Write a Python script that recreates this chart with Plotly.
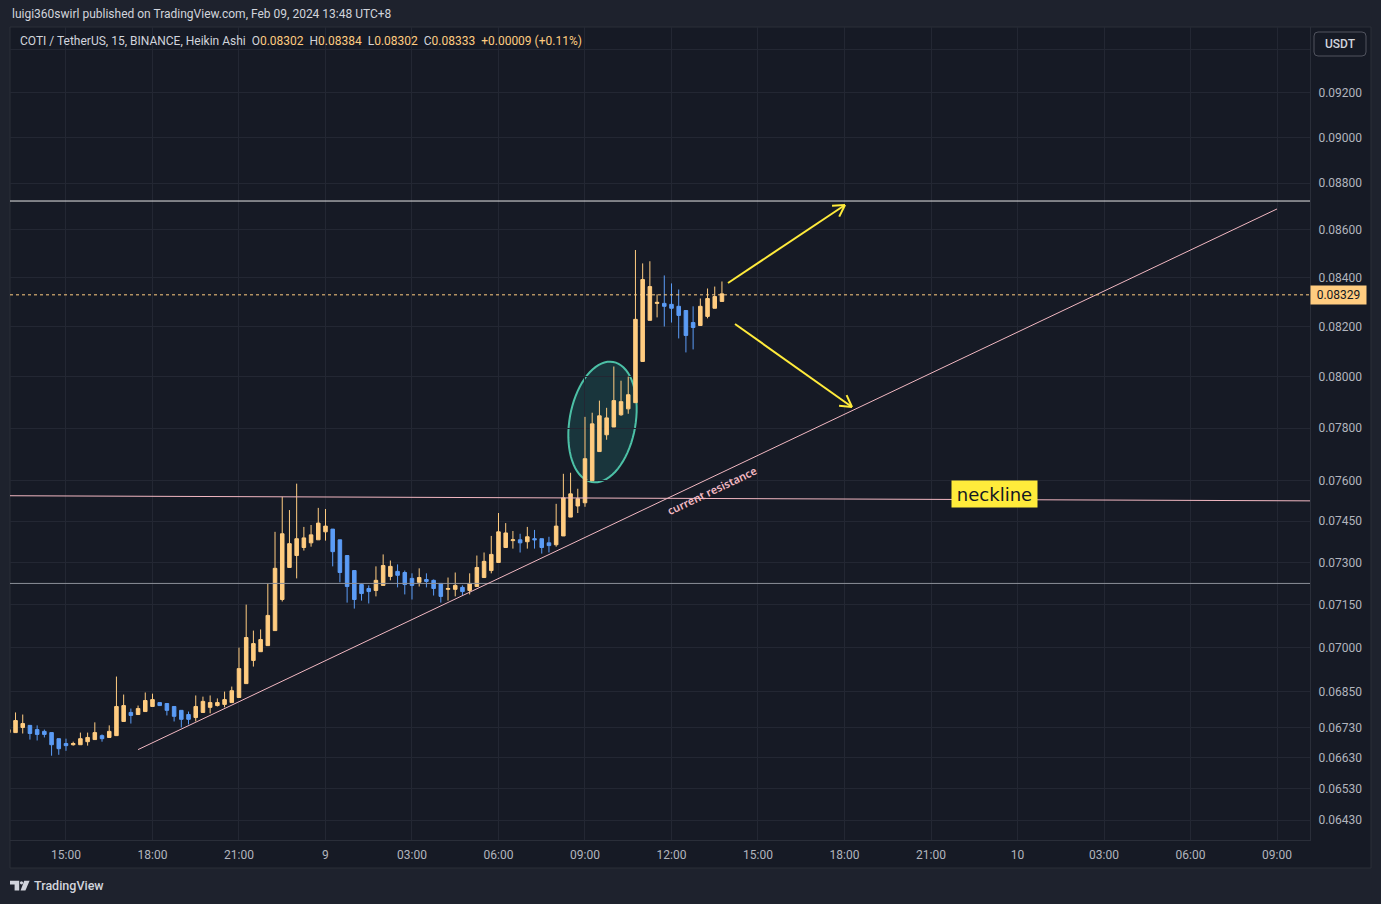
import math
import numpy as np
import pandas as pd
import plotly.graph_objects as go

# ------------------------------------------------------------------ data
bar_start = "2024-02-08 13:00"
bar_count = 100          # 15-minute Heikin Ashi bars, 13:00 Feb 8 -> 13:45 Feb 9

opens = [0.06713, 0.06713, 0.06730, 0.06737, 0.06723, 0.06717, 0.06713, 0.06693, 0.06677, 0.06673,
         0.06673, 0.06683, 0.06690, 0.06703, 0.06697, 0.06703, 0.06750, 0.06780, 0.06773, 0.06783,
         0.06800, 0.06813, 0.06810, 0.06800, 0.06787, 0.06773, 0.06763, 0.06780, 0.06797, 0.06803,
         0.06807, 0.06813, 0.06830, 0.06877, 0.06956, 0.06986, 0.07007, 0.07059, 0.07168, 0.07282,
         0.07325, 0.07354, 0.07371, 0.07382, 0.07411, 0.07421, 0.07382, 0.07325, 0.07271, 0.07221,
         0.07207, 0.07200, 0.07218, 0.07250, 0.07268, 0.07264, 0.07243, 0.07229, 0.07239, 0.07236,
         0.07225, 0.07204, 0.07204, 0.07211, 0.07200, 0.07214, 0.07246, 0.07271, 0.07300, 0.07354,
         0.07379, 0.07382, 0.07375, 0.07386, 0.07386, 0.07371, 0.07364, 0.07396, 0.07465, 0.07506,
         0.07518, 0.07600, 0.07710, 0.07774, 0.07804, 0.07851, 0.07874, 0.07898, 0.08060, 0.08225,
         0.08294, 0.08294, 0.08290, 0.08282, 0.08265, 0.08216, 0.08204, 0.08241, 0.08274, 0.08302]
highs = [0.06727, 0.06780, 0.06773, 0.06737, 0.06737, 0.06723, 0.06713, 0.06693, 0.06693, 0.06683,
         0.06713, 0.06713, 0.06747, 0.06707, 0.06737, 0.06901, 0.06840, 0.06793, 0.06803, 0.06847,
         0.06843, 0.06813, 0.06810, 0.06800, 0.06787, 0.06783, 0.06837, 0.06833, 0.06837, 0.06827,
         0.06850, 0.06867, 0.07000, 0.07150, 0.07059, 0.07063, 0.07225, 0.07411, 0.07540, 0.07491,
         0.07589, 0.07429, 0.07436, 0.07499, 0.07495, 0.07421, 0.07382, 0.07325, 0.07271, 0.07225,
         0.07218, 0.07286, 0.07329, 0.07307, 0.07293, 0.07271, 0.07261, 0.07279, 0.07261, 0.07239,
         0.07225, 0.07246, 0.07264, 0.07218, 0.07261, 0.07325, 0.07336, 0.07396, 0.07480, 0.07443,
         0.07414, 0.07404, 0.07429, 0.07418, 0.07386, 0.07393, 0.07514, 0.07626, 0.07630, 0.07570,
         0.07843, 0.07859, 0.07906, 0.07878, 0.08040, 0.07984, 0.08000, 0.08515, 0.08459, 0.08468,
         0.08331, 0.08409, 0.08376, 0.08351, 0.08265, 0.08282, 0.08314, 0.08355, 0.08363, 0.08384]
lows = [0.06710, 0.06713, 0.06710, 0.06690, 0.06687, 0.06697, 0.06637, 0.06640, 0.06653, 0.06670,
        0.06673, 0.06670, 0.06690, 0.06683, 0.06697, 0.06703, 0.06750, 0.06743, 0.06773, 0.06783,
        0.06800, 0.06803, 0.06770, 0.06750, 0.06730, 0.06740, 0.06750, 0.06780, 0.06777, 0.06800,
        0.06797, 0.06813, 0.06830, 0.06877, 0.06935, 0.06986, 0.07007, 0.07059, 0.07161, 0.07282,
        0.07243, 0.07343, 0.07357, 0.07382, 0.07379, 0.07286, 0.07229, 0.07157, 0.07136, 0.07164,
        0.07154, 0.07179, 0.07218, 0.07236, 0.07211, 0.07186, 0.07168, 0.07214, 0.07211, 0.07182,
        0.07157, 0.07164, 0.07179, 0.07182, 0.07186, 0.07214, 0.07246, 0.07261, 0.07300, 0.07354,
        0.07350, 0.07336, 0.07350, 0.07350, 0.07332, 0.07336, 0.07357, 0.07396, 0.07465, 0.07480,
        0.07503, 0.07600, 0.07710, 0.07755, 0.07804, 0.07847, 0.07855, 0.07898, 0.08060, 0.08225,
        0.08237, 0.08200, 0.08216, 0.08152, 0.08096, 0.08108, 0.08204, 0.08233, 0.08274, 0.08302]
closes = [0.06723, 0.06753, 0.06743, 0.06710, 0.06707, 0.06707, 0.06673, 0.06660, 0.06670, 0.06677,
          0.06693, 0.06697, 0.06713, 0.06693, 0.06717, 0.06800, 0.06803, 0.06770, 0.06793, 0.06820,
          0.06823, 0.06803, 0.06787, 0.06767, 0.06757, 0.06757, 0.06800, 0.06817, 0.06813, 0.06813,
          0.06823, 0.06853, 0.06928, 0.07035, 0.07014, 0.07028, 0.07112, 0.07279, 0.07404, 0.07368,
          0.07386, 0.07389, 0.07400, 0.07443, 0.07432, 0.07339, 0.07264, 0.07214, 0.07168, 0.07189,
          0.07196, 0.07236, 0.07289, 0.07286, 0.07254, 0.07221, 0.07218, 0.07246, 0.07232, 0.07207,
          0.07179, 0.07207, 0.07218, 0.07196, 0.07225, 0.07282, 0.07304, 0.07329, 0.07411, 0.07407,
          0.07382, 0.07371, 0.07393, 0.07382, 0.07354, 0.07361, 0.07432, 0.07536, 0.07551, 0.07533,
          0.07683, 0.07816, 0.07847, 0.07839, 0.07906, 0.07902, 0.07929, 0.08229, 0.08392, 0.08363,
          0.08298, 0.08282, 0.08274, 0.08245, 0.08164, 0.08196, 0.08282, 0.08314, 0.08322, 0.08333]

price_ticks = [0.0643, 0.0653, 0.0663, 0.0673, 0.0685, 0.0700, 0.0715, 0.0730, 0.0745,
               0.0760, 0.0780, 0.0800, 0.0820, 0.0840, 0.0860, 0.0880, 0.0900, 0.0920, 0.0940]
time_ticks = ["2024-02-08 15:00", "2024-02-08 18:00", "2024-02-08 21:00", "2024-02-09 00:00",
              "2024-02-09 03:00", "2024-02-09 06:00", "2024-02-09 09:00", "2024-02-09 12:00",
              "2024-02-09 15:00", "2024-02-09 18:00", "2024-02-09 21:00", "2024-02-10 00:00",
              "2024-02-10 03:00", "2024-02-10 06:00", "2024-02-10 09:00"]
time_tick_labels = ["15:00", "18:00", "21:00", "9", "03:00", "06:00", "09:00", "12:00",
                    "15:00", "18:00", "21:00", "10", "03:00", "06:00", "09:00"]

view_start = "2024-02-08 13:03:30"
view_end = "2024-02-10 10:08:40"
view_low, view_high = 0.06367, 0.09504

top_level = 0.08723
support_level = 0.07225
neckline_prices = [0.07544, 0.07525]
trend_times = ["2024-02-08 17:30", "2024-02-10 09:00"]
trend_prices = [0.06657, 0.08689]
last_price = 0.08329

# ------------------------------------------------------------------ style
W, H = 1381, 904
PL, PR, PT, PB = 10, 1310, 27, 840          # plot pane in page pixels
FRAME = "#1e222d"
PANE = "#161a25"
GRID = "#232733"
BORDER = "#2a2e39"
TEXT = "#d1d4dc"
AXIS_TEXT = "#b2b5be"
UP = "#ffcc80"
DOWN = "#5b9cf6"
PINK = "#f2b8c2"
YELLOW = "#ffeb3b"
FONT = "Roboto"


def PX(px):
    return (px - PL) / (PR - PL)


def PY(py):
    return (PB - py) / (PB - PT)


def path_from(points, close=True):
    s = "M " + " L ".join(f"{PX(x):.5f},{PY(y):.5f}" for x, y in points)
    return s + (" Z" if close else "")


fig = go.Figure()

times = pd.date_range(bar_start, periods=bar_count, freq="15min")
fig.add_trace(go.Candlestick(
    x=times, open=opens, high=highs, low=lows, close=closes,
    increasing=dict(line=dict(color=UP, width=1), fillcolor=UP),
    decreasing=dict(line=dict(color=DOWN, width=1), fillcolor=DOWN),
    whiskerwidth=0, showlegend=False, name="COTIUSDT"))

# drawings on the chart
fig.add_trace(go.Scatter(x=[view_start, view_end], y=[top_level, top_level], mode="lines",
                         line=dict(color="#e6e6e6", width=1), hoverinfo="skip", showlegend=False))
fig.add_trace(go.Scatter(x=[view_start, view_end], y=[support_level, support_level], mode="lines",
                         line=dict(color="#8c8f99", width=1), hoverinfo="skip", showlegend=False))
fig.add_trace(go.Scatter(x=[view_start, view_end], y=neckline_prices, mode="lines",
                         line=dict(color=PINK, width=1), hoverinfo="skip", showlegend=False))
fig.add_trace(go.Scatter(x=trend_times, y=trend_prices, mode="lines",
                         line=dict(color=PINK, width=1), hoverinfo="skip", showlegend=False))
fig.add_trace(go.Scatter(x=[view_start, view_end], y=[last_price, last_price], mode="lines",
                         line=dict(color=UP, width=1, dash="dot"), hoverinfo="skip", showlegend=False))

shapes = []
# chart box (pane + scales)
shapes.append(dict(type="rect", xref="paper", yref="paper", layer="below",
                   x0=PX(10), x1=PX(1371), y0=PY(868), y1=PY(27),
                   fillcolor=PANE, line=dict(color=BORDER, width=1)))

# ellipse around the breakout candles
cx, cy, ea, eb, th = 602.5, 422.0, 61.0, 33.0, math.radians(10)
ux, uy = math.sin(th), -math.cos(th)
vx, vy = math.cos(th), math.sin(th)
pts = []
for k in range(73):
    t = 2 * math.pi * k / 72
    pts.append((cx + ea * math.cos(t) * ux + eb * math.sin(t) * vx,
                cy + ea * math.cos(t) * uy + eb * math.sin(t) * vy))
shapes.append(dict(type="path", xref="paper", yref="paper", path=path_from(pts), layer="below",
                   fillcolor="rgba(38,166,154,0.20)", line=dict(color="#4cc0a6", width=2)))

# yellow arrows
def arrow(tail, tip, head=13, ang=30):
    out = [dict(type="line", xref="paper", yref="paper", x0=PX(tail[0]), y0=PY(tail[1]),
                x1=PX(tip[0]), y1=PY(tip[1]), line=dict(color=YELLOW, width=2))]
    dx, dy = tail[0] - tip[0], tail[1] - tip[1]
    L = math.hypot(dx, dy)
    dx, dy = dx / L, dy / L
    for s in (1, -1):
        a = math.radians(ang) * s
        bx = dx * math.cos(a) - dy * math.sin(a)
        by = dx * math.sin(a) + dy * math.cos(a)
        out.append(dict(type="line", xref="paper", yref="paper", x0=PX(tip[0]), y0=PY(tip[1]),
                        x1=PX(tip[0] + head * bx), y1=PY(tip[1] + head * by),
                        line=dict(color=YELLOW, width=2)))
    return out

shapes += arrow((728, 283), (845, 205))
shapes += arrow((735, 324), (852, 407))

# USDT button (rounded)
bx0, bx1, by0, by1, r = 1314, 1366, 32, 56, 4
shapes.append(dict(type="path", xref="paper", yref="paper", layer="above",
                   path=(f"M {PX(bx0 + r)},{PY(by0)} L {PX(bx1 - r)},{PY(by0)} "
                         f"Q {PX(bx1)},{PY(by0)} {PX(bx1)},{PY(by0 + r)} "
                         f"L {PX(bx1)},{PY(by1 - r)} Q {PX(bx1)},{PY(by1)} {PX(bx1 - r)},{PY(by1)} "
                         f"L {PX(bx0 + r)},{PY(by1)} Q {PX(bx0)},{PY(by1)} {PX(bx0)},{PY(by1 - r)} "
                         f"L {PX(bx0)},{PY(by0 + r)} Q {PX(bx0)},{PY(by0)} {PX(bx0 + r)},{PY(by0)} Z"),
                   fillcolor=PANE, line=dict(color="#50535e", width=1)))

# TradingView logo mark
shapes.append(dict(type="path", xref="paper", yref="paper",
                   path=path_from([(10, 880.8), (19.2, 880.8), (19.2, 890.6), (14.6, 890.6),
                                   (14.6, 884.6), (10, 884.6)]),
                   fillcolor=TEXT, line=dict(width=0)))
shapes.append(dict(type="circle", xref="paper", yref="paper",
                   x0=PX(19.9), x1=PX(23.1), y0=PY(884.4), y1=PY(881.2),
                   fillcolor=TEXT, line=dict(width=0)))
shapes.append(dict(type="path", xref="paper", yref="paper",
                   path=path_from([(24.2, 880.8), (29.6, 880.8), (25.4, 890.6), (20.6, 890.6)]),
                   fillcolor=TEXT, line=dict(width=0)))

annotations = []
annotations.append(dict(xref="paper", yref="paper", x=PX(10), y=PY(14), xanchor="left", yanchor="middle",
                        showarrow=False, text="luigi360swirl published on TradingView.com, Feb 09, 2024 13:48 UTC+8",
                        font=dict(family=FONT, size=12, color=TEXT)))
val = lambda s: f"<span style='color:{UP}'>{s}</span>"
legend_text = ("COTI / TetherUS, 15, BINANCE, Heikin Ashi&nbsp;&nbsp;"
               f"O{val('0.08302')}&nbsp;&nbsp;H{val('0.08384')}&nbsp;&nbsp;L{val('0.08302')}&nbsp;&nbsp;"
               f"C{val('0.08333')}&nbsp;&nbsp;{val('+0.00009 (+0.11%)')}")
annotations.append(dict(xref="paper", yref="paper", x=PX(18), y=PY(41), xanchor="left", yanchor="middle",
                        showarrow=False, text=legend_text, font=dict(family=FONT, size=12, color=TEXT)))
annotations.append(dict(xref="paper", yref="paper", x=PX(1340), y=PY(44), xanchor="center", yanchor="middle",
                        showarrow=False, text="USDT", font=dict(family=FONT, size=12, color=TEXT, weight=500)))
annotations.append(dict(xref="paper", yref="y", x=PX(1338.5), y=math.log10(last_price),
                        xanchor="center", yanchor="middle", showarrow=False, text=f"{last_price:.5f}",
                        bgcolor=UP, width=51, height=14, borderpad=2,
                        font=dict(family=FONT, size=12, color="#131722")))
annotations.append(dict(xref="paper", yref="paper", x=PX(994.5), y=PY(494), xanchor="center", yanchor="middle",
                        showarrow=False, text="neckline", bgcolor=YELLOW, width=81, height=22, borderpad=2,
                        font=dict(family="DejaVu Sans", size=18, color="#131722")))
annotations.append(dict(xref="paper", yref="paper", x=PX(711.5), y=PY(490), xanchor="center", yanchor="middle",
                        showarrow=False, text="current resistance", textangle=-25.4,
                        font=dict(family="Noto Sans", size=11, color=PINK, weight=600)))
annotations.append(dict(xref="paper", yref="paper", x=PX(32), y=PY(886), xanchor="left", yanchor="middle",
                        showarrow=False, text="TradingView",
                        font=dict(family=FONT, size=12.5, color=TEXT, weight=500)))

fig.update_layout(
    width=W, height=H,
    margin=dict(l=PL, r=W - PR, t=PT, b=H - PB, pad=0),
    paper_bgcolor=FRAME, plot_bgcolor=PANE,
    showlegend=False, hovermode=False,
    shapes=shapes, annotations=annotations,
    xaxis=dict(type="date", range=[view_start, view_end], rangeslider=dict(visible=False),
               tickmode="array", tickvals=time_ticks, ticktext=time_tick_labels,
               showgrid=True, gridcolor=GRID, gridwidth=1, zeroline=False,
               showline=True, linecolor=BORDER, linewidth=1, ticks="",
               ticklabelstandoff=4, tickfont=dict(family=FONT, size=12, color=AXIS_TEXT)),
    yaxis=dict(type="log", side="right", range=[math.log10(view_low), math.log10(view_high)],
               tickmode="array", tickvals=price_ticks,
               ticktext=["" if v > 0.093 else f"{v:.5f}" for v in price_ticks],
               showgrid=True, gridcolor=GRID, gridwidth=1, zeroline=False,
               showline=True, linecolor=BORDER, linewidth=1, ticks="",
               ticklabelstandoff=5, tickfont=dict(family=FONT, size=12, color=AXIS_TEXT)),
)

fig.write_html("out.html", config={"displayModeBar": False},
               post_script="document.body.style.margin='0';document.body.style.overflow='hidden';")
